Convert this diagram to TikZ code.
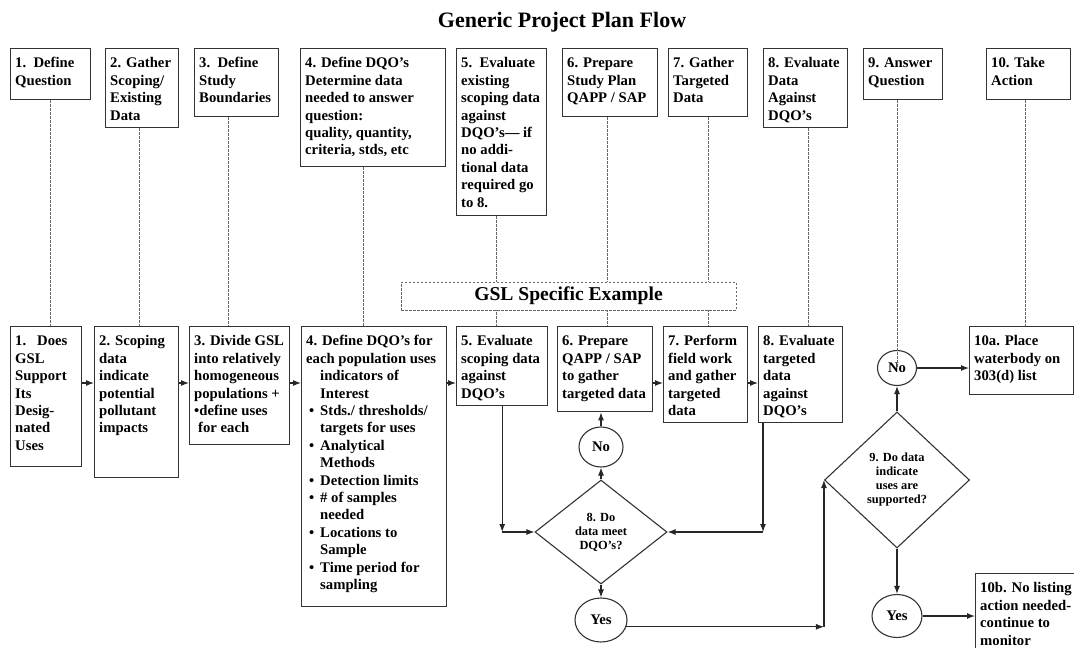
\documentclass[tikz,border=0pt]{standalone}
\usepackage{fontspec}
\setmainfont{Liberation Serif}
\usepackage{tikz}
\usetikzlibrary{positioning}
\usetikzlibrary{shapes, arrows, arrows.meta}

% box text: width, height (both in pt), lines
\newcommand{\boxtext}[3]{\parbox[t][\dimexpr#2pt-14pt\relax][t]{\dimexpr#1pt-9pt\relax}{\strut#3}}
\newcommand{\ind}{\hspace*{14pt}}
\newcommand{\itm}{\makebox[14pt][l]{\hspace{3pt}\textbullet}}

\begin{document}
\begin{tikzpicture}[x=1pt, y=-1pt]
    \tikzstyle{block} = [rectangle, draw=black!80, line width=1.4pt, anchor=north west,
    inner xsep=4.5pt, inner ysep=7pt, font=\fontsize{14.7}{17.4}\selectfont\bfseries]
    \tikzstyle{decision} = [diamond, draw=black!80, line width=1.1pt, inner sep=0pt,
    align=center, font=\fontsize{12.4}{14}\selectfont\bfseries]
    \tikzstyle{answer} = [ellipse, draw=black!80, line width=1.1pt, inner sep=0pt,
    font=\fontsize{14.7}{17.4}\selectfont\bfseries]
    \tikzstyle{line} = [draw=black!85, line width=1.1pt, -{Latex[length=8pt, width=6pt]}]
    \tikzstyle{dline} = [draw=black!60, line width=0.8pt, dash pattern=on 2.5pt off 1.5pt]
    \useasboundingbox (0,0) rectangle (1074,648);
    \node [font=\fontsize{22}{26}\selectfont\bfseries, anchor=base] (title) at (562,27)
    {Generic Project Plan Flow};
    % generic plan
    \node [block] (q1) at (10,48) {\boxtext{80}{51}{1.\enspace Define\\Question}};
    \node [block] (q2) at (105,48) {\boxtext{73}{79}{2. Gather\\Scoping/\\Existing\\Data}};
    \node [block] (q3) at (194,48) {\boxtext{84}{68}{3.\enspace Define\\Study\\Boundaries}};
    \node [block] (q4) at (300,48) {\boxtext{145}{118}{4. Define DQO’s\\Determine data\\needed to answer\\question:\\quality, quantity,\\criteria, stds, etc}};
    \node [block] (q5) at (456,48) {\boxtext{90}{167}{5.\enspace Evaluate\\existing\\scoping data\\against\\DQO’s— if\\no addi-\\tional data\\required go\\to 8.}};
    \node [block] (q6) at (562,48) {\boxtext{95}{68}{6. Prepare\\Study Plan\\QAPP / SAP}};
    \node [block] (q7) at (668,48) {\boxtext{79}{68}{7. Gather\\Targeted\\Data}};
    \node [block] (q8) at (763,48) {\boxtext{84}{79}{8. Evaluate\\Data\\Against\\DQO’s}};
    \node [block] (q9) at (863,48) {\boxtext{79}{51}{9. Answer\\Question}};
    \node [block] (q10) at (986,48) {\boxtext{84}{51}{10. Take\\Action}};
    % GSL example
    \node [block] (g1) at (10,326) {\boxtext{71}{140}{1.\enspace\ Does\\GSL\\Support\\Its\\Desig-\\nated\\Uses}};
    \node [block] (g2) at (94,326) {\boxtext{84}{151}{2. Scoping\\data\\indicate\\potential\\pollutant\\impacts}};
    \node [block] (g3) at (189,326) {\boxtext{100}{118}{3. Divide GSL\\into relatively\\homogeneous\\populations +\\\textbullet define uses\\\hspace*{4pt}for each}};
    \node [block] (g4) at (301,326) {\boxtext{145}{280}{4. Define DQO’s for\\each population uses\\\ind indicators of\\\ind Interest\\\itm Stds./ thresholds/\\\ind targets for uses\\\itm Analytical\\\ind Methods\\\itm Detection limits\\\itm \# of samples\\\ind needed\\\itm Locations to\\\ind Sample\\\itm Time period for\\\ind sampling}};
    \node [block] (g5) at (456,326) {\boxtext{91}{79}{5. Evaluate\\scoping data\\against\\DQO’s}};
    \node [block] (g6) at (557,326) {\boxtext{95}{85}{6. Prepare\\QAPP / SAP\\to gather\\targeted data}};
    \node [block] (g7) at (663,326) {\boxtext{84}{96}{7. Perform\\field work\\and gather\\targeted\\data}};
    \node [block] (g8) at (758,326) {\boxtext{84}{96}{8. Evaluate\\targeted\\data\\against\\DQO’s}};
    \node [block] (g10) at (969,326) {\boxtext{104}{68}{10a. Place\\waterbody on\\303(d) list}};
    \node [block] (g10b) at (975,573) {\boxtext{110}{80}{10b. No listing\\action needed-\\continue to\\monitor}};
    \node [decision, minimum width=132pt, minimum height=104pt] (meet) at (601,532)
    {8. Do\\data meet\\DQO’s?};
    \node [answer, minimum width=44pt, minimum height=40pt] (no8) at (601,447) {No};
    \node [answer, minimum width=52pt, minimum height=44pt] (yes8) at (601,620) {Yes};
    \node [decision, minimum width=145pt, minimum height=136pt] (uses) at (897,480)
    {9. Do data\\indicate\\uses are\\supported?};
    \node [answer, minimum width=39pt, minimum height=35pt] (no9) at (897,368) {No};
    \node [answer, minimum width=50pt, minimum height=43pt] (yes9) at (897,616) {Yes};
    % dashed links generic -> GSL
    \foreach \n/\s in {1/0,2/-2.5,3/-8,4/-10,5/-5,6/-2.5,7/0,8/3,10/-3}
        \path [dline] ([xshift=\s pt]q\n.south) -- ([xshift=\s pt]q\n.south |- g\n.north);
    \path [dline] (q9.south -| no9) -- (no9.center);
    \node [draw=black!60, line width=0.8pt, dash pattern=on 2.5pt off 1.5pt, fill=white,
    minimum width=335pt, minimum height=28pt, inner sep=0pt,
    font=\fontsize{19.6}{22}\selectfont\bfseries] (gsl) at (568.5,296) {GSL Specific Example};
    % flow
    \coordinate (row) at (0,383);
    \path [line] (g1.east |- row) -- (g2.west |- row);
    \path [line] (g2.east |- row) -- (g3.west |- row);
    \path [line] (g3.east |- row) -- (g4.west |- row);
    \path [line] (g4.east |- row) -- (g5.west |- row);
    \path [line] (g6.east |- row) -- (g7.west |- row);
    \path [line] (g7.east |- row) -- (g8.west |- row);
    \coordinate (c5) at (g5.south |- meet.west);
    \path [line] (g5) -- (c5);
    \path [line] (c5) -- (meet.west);
    \coordinate (o8) at ([xshift=5pt]g8.south west);
    \coordinate (c8) at (o8 |- meet.east);
    \path [line] (o8) -- (c8);
    \path [line] (c8) -- (meet.east);
    \path [line] (meet.north) -- (no8.south);
    \path [line] (no8.north) -- (no8.north |- g6.south);
    \path [line] (meet.south) -- (yes8.north);
    \coordinate (c9) at (uses.west |- yes8.-15);
    \path [line] (yes8.-15) -- (c9);
    \path [line] (c9) -- (uses.west);
    \path [line] (uses.north) -- (no9.south);
    \path [line] (no9.east) -- (no9.east -| g10.west);
    \path [line] (uses.south) -- (yes9.north);
    \path [line] (yes9.east) -- (yes9.east -| g10b.west);
\end{tikzpicture}
\end{document}
